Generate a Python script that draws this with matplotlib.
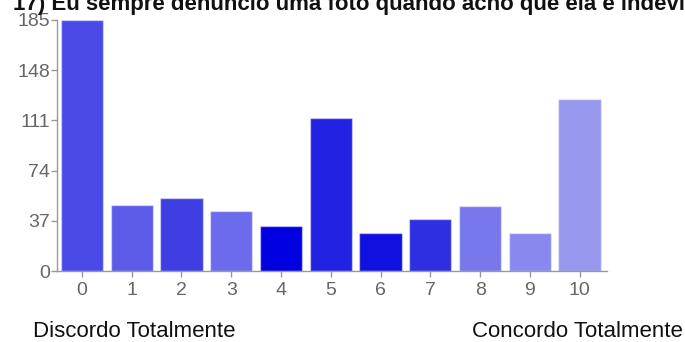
import matplotlib
matplotlib.use("Agg")
import matplotlib.pyplot as plt

plt.rcParams["font.family"] = ["Liberation Sans", "DejaVu Sans"]

# responses per point of the 0-10 scale
scores = [0, 1, 2, 3, 4, 5, 6, 7, 8, 9, 10]
counts = [185, 49, 54, 44, 33, 113, 28, 38, 48, 28, 127]
bar_colors = ["#4a4ae8", "#5c5ce9", "#3e3ee3", "#6b6beb", "#0000e0", "#2222e2",
              "#1010e0", "#2e2ee3", "#7878ec", "#8888ef", "#9898ef"]
y_ticks = [0, 37, 74, 111, 148, 185]

title = "17) Eu sempre denuncio uma foto quando acho que ela é indevida"
left_label = "Discordo Totalmente"
right_label = "Concordo Totalmente"

W, H = 685, 342
fig = plt.figure(figsize=(W / 100, H / 100), dpi=100)
ax = fig.add_axes([57 / W, 1 - 271 / H, 550 / W, 251 / H])

ax.bar(scores, counts, width=0.85, color=bar_colors,
       edgecolor=(1, 1, 1, 0.45), linewidth=1.0)

ax.set_xlim(-0.5, 10.55)
ax.set_ylim(0, 185)
ax.set_xticks(scores)
ax.set_yticks(y_ticks)

grey = "#999999"
for side in ["top", "right"]:
    ax.spines[side].set_visible(False)
for side in ["left", "bottom"]:
    ax.spines[side].set_color(grey)
    ax.spines[side].set_linewidth(1.0)
ax.tick_params(axis="both", colors=grey, labelcolor="#666666",
               labelsize=14, length=4, width=1)
ax.tick_params(axis="x", pad=4)
ax.tick_params(axis="y", pad=1)

# title sits partly above the top edge of the canvas
fig.text(13 / W, 1 - 10 / H, title, fontsize=16, fontweight="bold",
         color="#111111", va="baseline", ha="left")
fig.text(33 / W, 1 - 337 / H, left_label, fontsize=16, color="#111111",
         va="baseline", ha="left")
fig.text(683 / W, 1 - 337 / H, right_label, fontsize=16, color="#111111",
         va="baseline", ha="right")

fig.savefig("out.png", dpi=100)
